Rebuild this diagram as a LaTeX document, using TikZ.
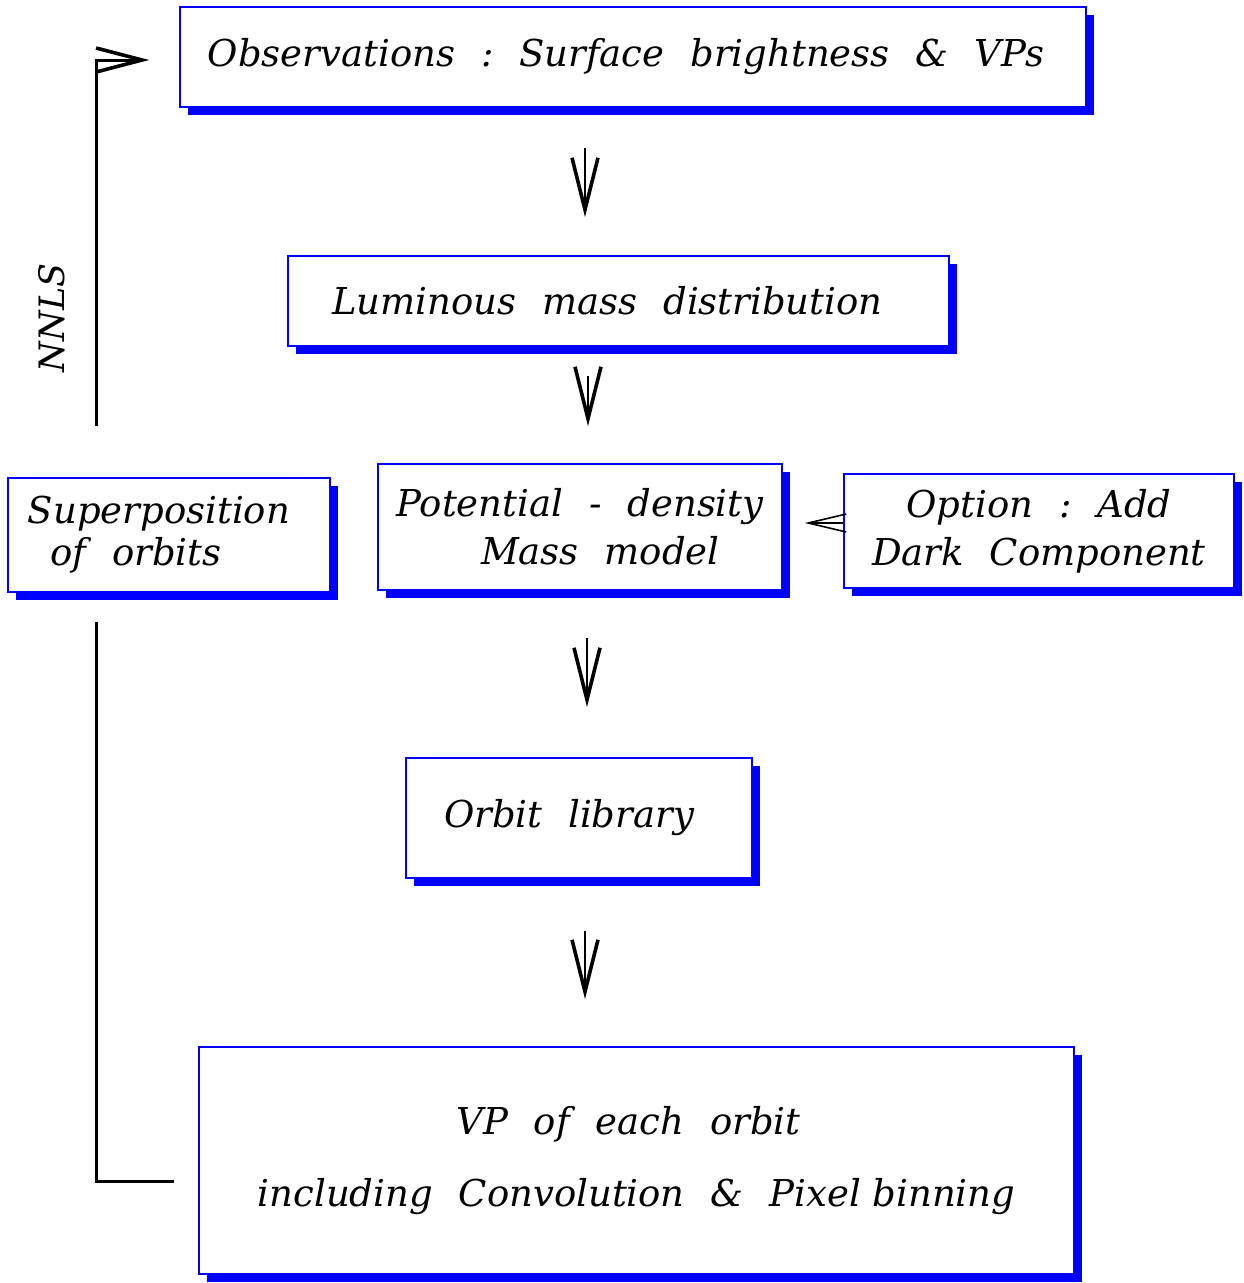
\documentclass[tikz,border=0pt]{standalone}
\usepackage{fontspec}
\setmainfont{DejaVu Serif}
\usetikzlibrary{arrows.meta,shadows,calc}
\newcommand{\gp}{\hspace{0.7em}}
\begin{document}
\begin{tikzpicture}[x=1pt,y=-1pt,
  box/.style={draw=blue, line width=1.6pt, fill=white, inner sep=0pt,
    align=center, font=\fontsize{37}{48}\selectfont\itshape,
    drop shadow={shadow xshift=8pt, shadow yshift=-8pt, fill=blue, opacity=1}},
  varrow/.style={line width=2.8pt, -{Straight Barb[length=52pt,width=26pt,line width=3.6pt]}},
  harrow/.style={line width=1.4pt, -{Straight Barb[length=38pt,width=18pt,line width=1.6pt]}},
  fbline/.style={line width=3pt},
  fbarrow/.style={line width=3pt, -{Straight Barb[length=46pt,width=24pt,line width=3.6pt]}}]
\useasboundingbox (0,0) rectangle (1244,1283);

\node[box, minimum width=906pt, minimum height=100pt] (obs) at (633,57)
  {Observations\gp:\gp Surface\gp brightness\gp \&\gp VPs\hspace*{14pt}};
\node[box, minimum width=661pt, minimum height=90pt] (lum) at (618.5,301)
  {Luminous\gp mass\gp distribution\hspace*{22pt}};
\node[box, minimum width=404pt, minimum height=126pt] (pot) at (580,527)
  {Potential\gp -\gp density\\ \hspace{1.1em}Mass\gp model};
\node[box, minimum width=390pt, minimum height=114pt] (opt) at (1039,531)
  {Option\gp :\gp Add\\Dark\gp Component};
\node[box, minimum width=322pt, minimum height=114pt, align=left,
  font=\fontsize{37}{42}\selectfont\itshape] (sup) at (169,535)
  {Superposition\hspace*{20pt}\\\hspace*{0.6em}of\gp orbits};
\node[box, minimum width=346pt, minimum height=120pt] (orb) at (579,818)
  {Orbit\gp library\hspace*{20pt}};
\node[box, minimum width=875pt, minimum height=227pt,
  font=\fontsize{37}{72}\selectfont\itshape] (vp) at (636.5,1160.5)
  {VP\gp of\gp each\gp orbit\hspace*{16pt}\\including\gp Convolution\gp \&\gp Pixel binning};

\node[rotate=90, font=\fontsize{35}{40}\selectfont\itshape] (nnls) at (52,318) {NNLS};

\coordinate (ax1) at (585,0);
\coordinate (ax2) at (588,0);
\coordinate (ax3) at (587,0);
\coordinate (ax4) at (585,0);
\coordinate (fbx) at (96,0);

\draw[varrow, shorten <=40pt, shorten >=38pt] (obs.south -| ax1) -- (lum.north -| ax1);
\draw[varrow, shorten <=29pt, shorten >=37pt] (lum.south -| ax2) -- (pot.north -| ax2);
\draw[varrow, shorten <=47pt, shorten >=50pt] (pot.south -| ax3) -- (orb.north -| ax3);
\draw[varrow, shorten <=52pt, shorten >=47pt] (orb.south -| ax4) -- (vp.north -| ax4);
\draw[harrow, shorten >=22pt] ([yshift=8pt]opt.west) -- ([yshift=8pt]opt.west -| pot.east);

\draw[fbarrow] (sup.north -| fbx) ++(0,-51) |- ([xshift=-30pt,yshift=-3pt]obs.west);
\draw[fbline] (sup.south -| fbx) ++(0,29) |- ([xshift=-24pt,yshift=-20.5pt]vp.west);
\end{tikzpicture}
\end{document}
